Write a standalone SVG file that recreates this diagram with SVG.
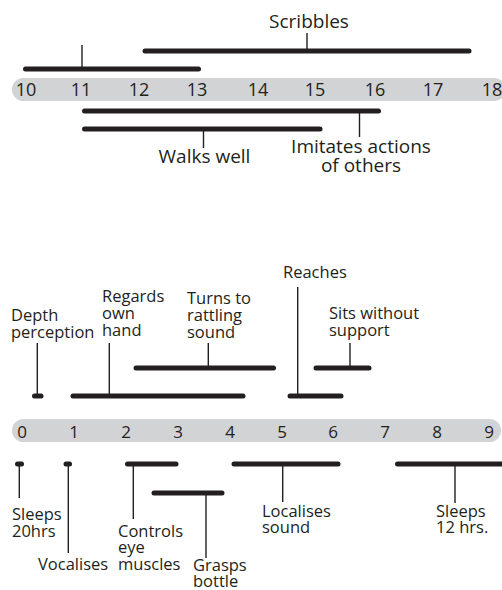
<svg xmlns="http://www.w3.org/2000/svg" width="502" height="590" viewBox="0 0 502 590">
<style>
text{font-family:"Open Sans","Noto Sans",sans-serif;fill:#231f20}
.lt{font-size:19px;text-anchor:middle}
.lb{font-size:16.5px}
.num{font-size:18px;text-anchor:middle}
.numb{font-size:17px;text-anchor:middle}
.bar{stroke:#231f20;stroke-width:5;stroke-linecap:round;fill:none}
.tick{stroke:#231f20;stroke-width:1.4;fill:none}
.band{fill:#d1d3d4}
</style>
<rect width="502" height="590" fill="#ffffff"/>

<g id="axis-top">
<rect class="band" x="12" y="78" width="494" height="23" rx="11.5"/>
<text class="num" x="26" y="96">10</text>
<text class="num" x="81" y="96">11</text>
<text class="num" x="139" y="96">12</text>
<text class="num" x="197" y="96">13</text>
<text class="num" x="258" y="96">14</text>
<text class="num" x="315" y="96">15</text>
<text class="num" x="375" y="96">16</text>
<text class="num" x="433" y="96">17</text>
<text class="num" x="492" y="96">18</text>
</g>

<g id="axis-bottom">
<rect class="band" x="12" y="419" width="489" height="23" rx="11.5"/>
<text class="numb" x="22" y="438">0</text>
<text class="numb" x="74" y="438">1</text>
<text class="numb" x="126" y="438">2</text>
<text class="numb" x="178" y="438">3</text>
<text class="numb" x="230" y="438">4</text>
<text class="numb" x="282" y="438">5</text>
<text class="numb" x="333" y="438">6</text>
<text class="numb" x="385" y="438">7</text>
<text class="numb" x="437" y="438">8</text>
<text class="numb" x="489" y="438">9</text>
</g>

<g id="connectors">
<line class="tick" x1="82" y1="45" x2="82" y2="69"/>
<line class="tick" x1="307" y1="33" x2="307" y2="51"/>
<line class="tick" x1="359.5" y1="111" x2="359.5" y2="137"/>
<line class="tick" x1="203.5" y1="129" x2="203.5" y2="148"/>
<line class="tick" x1="37.3" y1="343" x2="37.3" y2="396"/>
<line class="tick" x1="109.3" y1="343" x2="109.3" y2="396"/>
<line class="tick" x1="208.3" y1="343" x2="208.3" y2="368"/>
<line class="tick" x1="297.7" y1="287" x2="297.7" y2="396"/>
<line class="tick" x1="350" y1="343" x2="350" y2="368"/>
<line class="tick" x1="19.3" y1="464" x2="19.3" y2="498"/>
<line class="tick" x1="68.3" y1="464" x2="68.3" y2="553"/>
<line class="tick" x1="133.3" y1="464" x2="133.3" y2="519"/>
<line class="tick" x1="206" y1="493" x2="206" y2="558"/>
<line class="tick" x1="282.7" y1="464" x2="282.7" y2="502"/>
<line class="tick" x1="455" y1="464" x2="455" y2="503"/>
</g>

<g id="node-unlabelled-top">
<line class="bar" x1="25.5" y1="69" x2="198.5" y2="69"/>
</g>
<g id="node-scribbles">
<line class="bar" x1="145" y1="51" x2="469" y2="51"/>
<text class="lt" x="309" y="28">Scribbles</text>
</g>
<g id="node-imitates">
<line class="bar" x1="84.5" y1="111" x2="378.5" y2="111"/>
<text class="lt" x="361" y="153">Imitates actions</text>
<text class="lt" x="361" y="172">of others</text>
</g>
<g id="node-walks">
<line class="bar" x1="84.5" y1="129" x2="320" y2="129"/>
<text class="lt" x="204.5" y="163">Walks well</text>
</g>

<g id="node-depth">
<line class="bar" x1="34.5" y1="396" x2="41" y2="396"/>
<text class="lb" x="11" y="321">Depth</text>
<text class="lb" x="11" y="338">perception</text>
</g>
<g id="node-regards">
<line class="bar" x1="73" y1="396" x2="243" y2="396"/>
<text class="lb" x="102" y="302">Regards</text>
<text class="lb" x="102" y="319">own</text>
<text class="lb" x="102" y="336">hand</text>
</g>
<g id="node-turns">
<line class="bar" x1="136" y1="368" x2="273.5" y2="368"/>
<text class="lb" x="187" y="303.5">Turns to</text>
<text class="lb" x="187" y="320.5">rattling</text>
<text class="lb" x="187" y="337.5">sound</text>
</g>
<g id="node-reaches">
<line class="bar" x1="290" y1="396" x2="341" y2="396"/>
<text class="lb" x="283" y="278">Reaches</text>
</g>
<g id="node-sits">
<line class="bar" x1="316" y1="368" x2="369" y2="368"/>
<text class="lb" x="329" y="318.5">Sits without</text>
<text class="lb" x="329" y="336">support</text>
</g>

<g id="node-sleeps20">
<line class="bar" x1="17.5" y1="464" x2="21.5" y2="464"/>
<text class="lb" x="12" y="520">Sleeps</text>
<text class="lb" x="12" y="536.5">20hrs</text>
</g>
<g id="node-vocalises">
<line class="bar" x1="66" y1="464" x2="69.5" y2="464"/>
<text class="lb" x="38" y="570">Vocalises</text>
</g>
<g id="node-controls">
<line class="bar" x1="127.5" y1="464" x2="176" y2="464"/>
<text class="lb" x="118" y="536.5">Controls</text>
<text class="lb" x="118" y="552.5">eye</text>
<text class="lb" x="118" y="569.5">muscles</text>
</g>
<g id="node-grasps">
<line class="bar" x1="154" y1="493" x2="222" y2="493"/>
<text class="lb" x="193" y="570.5">Grasps</text>
<text class="lb" x="193" y="586.5">bottle</text>
</g>
<g id="node-localises">
<line class="bar" x1="234" y1="464" x2="338" y2="464"/>
<text class="lb" x="262" y="516.5">Localises</text>
<text class="lb" x="262" y="533">sound</text>
</g>
<g id="node-sleeps12">
<line class="bar" x1="397.5" y1="464" x2="510" y2="464"/>
<text class="lb" x="436" y="516.5">Sleeps</text>
<text class="lb" x="436" y="533">12 hrs.</text>
</g>
</svg>
